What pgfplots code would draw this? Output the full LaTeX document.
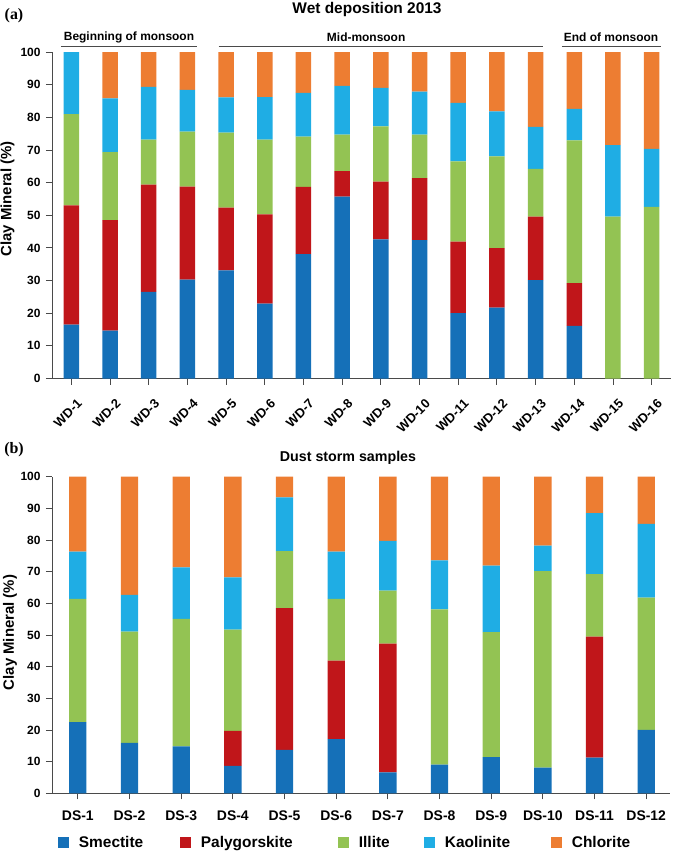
\documentclass[border=0pt]{standalone}
\usepackage{pgfplots}
\pgfplotsset{compat=1.18}
\usepackage{pgfplotstable}
\usepackage{fontspec}
\setmainfont{Liberation Sans}
\newfontfamily\serifb{Liberation Serif}

\definecolor{smec}{HTML}{1570B8}
\definecolor{paly}{HTML}{C0161A}
\definecolor{illi}{HTML}{93C353}
\definecolor{kaol}{HTML}{1FADE4}
\definecolor{chlo}{HTML}{ED7D32}
\definecolor{axgray}{HTML}{4A4A4A}

\pgfplotstableread{
x S P I K C
1 16.5 36.5 28.0 19.0 0
2 14.7 33.8 20.8 16.5 14.2
3 26.5 32.9 13.8 16.1 10.7
4 30.3 28.5 16.8 12.8 11.6
5 33.1 19.2 23.0 10.8 13.9
6 22.9 27.4 22.9 13.0 13.8
7 38.1 20.6 15.4 13.4 12.5
8 55.7 7.8 11.2 14.9 10.4
9 42.6 17.7 16.9 11.8 11.0
10 42.4 19.0 13.3 13.2 12.1
11 20.0 21.9 24.6 17.9 15.6
12 21.7 18.2 28.1 13.8 18.2
13 30.1 19.5 14.6 12.9 22.9
14 16.1 13.1 43.7 9.7 17.4
15 0 0 49.6 21.9 28.5
16 0 0 52.6 17.7 29.7
}\wetdata

\pgfplotstableread{
x S P I K C
1 22.5 0 38.9 14.9 23.7
2 15.9 0 35.2 11.6 37.3
3 14.8 0 40.3 16.3 28.6
4 8.7 11.0 32.0 16.5 31.8
5 13.7 44.8 18.0 17.0 6.5
6 17.1 24.8 19.5 14.9 23.7
7 6.6 40.7 16.7 15.7 20.3
8 9.1 0 49.0 15.5 26.4
9 11.4 0 39.5 21.0 28.1
10 8.1 0 62.1 8.0 21.8
11 11.3 38.2 19.7 19.3 11.5
12 20.0 0 41.8 23.3 14.9
}\dustdata

\pgfplotsset{
  clay/.style={
    scale only axis, ybar stacked, ymin=0, ymax=100, xmin=0.5,
    axis x line=bottom, axis y line=left,
    axis line style={-, draw=axgray, line width=0.9pt},
    tick align=outside, major tick length=6bp,
    tick style={draw=axgray, line width=0.9pt},
    ytick={0,10,...,100}, xtick=data,
    /pgf/number format/assume math mode=true,
    yticklabel style={font=\bfseries\fontsize{12}{14}\selectfont, xshift=-2bp},
    ylabel={Clay Mineral (\%)},
    ylabel style={font=\bfseries\fontsize{15}{18}\selectfont, anchor=center},
    clip=false,
    legend image code/.code={\fill[#1] (0bp,-5.35bp) rectangle (10.7bp,5.35bp);},
  },
}

\begin{document}
\begin{tikzpicture}
\path[use as bounding box] (0bp,0bp) rectangle (685bp,-854bp);

\node[font=\bfseries\fontsize{15.5}{18}\selectfont] at (367bp,-10bp) {Wet deposition 2013};
\node[font=\serifb\bfseries\fontsize{16}{18}\selectfont] at (14bp,-16bp) {(a)};
\node[font=\bfseries\fontsize{14.3}{17}\selectfont] at (348bp,-458bp) {Dust storm samples};
\node[font=\serifb\bfseries\fontsize{16}{18}\selectfont] at (14bp,-450bp) {(b)};

\begin{axis}[clay,
  at={(52bp,-378.5bp)}, anchor=south west,
  width=619bp, height=326.5bp, xmax=16.5,
  bar width=15.5bp,
  xticklabels={WD-1,WD-2,WD-3,WD-4,WD-5,WD-6,WD-7,WD-8,WD-9,WD-10,WD-11,WD-12,WD-13,WD-14,WD-15,WD-16},
  xticklabel style={xshift=5bp, yshift=-9bp, rotate=45, anchor=north east, font=\bfseries\fontsize{13}{15}\selectfont},
  ylabel style={at={(axis description cs:-0.072,0.55)}},
]
\addplot[fill=smec, draw=none] table[x=x, y=S] {\wetdata};
\addplot[fill=paly, draw=none] table[x=x, y=P] {\wetdata};
\addplot[fill=illi, draw=none] table[x=x, y=I] {\wetdata};
\addplot[fill=kaol, draw=none] table[x=x, y=K] {\wetdata};
\addplot[fill=chlo, draw=none] table[x=x, y=C] {\wetdata};
\draw[axgray, line width=1pt] (axis cs:0.73,101.6) -- (axis cs:4.24,101.6);
\draw[axgray, line width=1pt] (axis cs:4.81,101.6) -- (axis cs:13.19,101.6);
\draw[axgray, line width=1pt] (axis cs:13.68,101.6) -- (axis cs:16.24,101.6);
\node[font=\bfseries\fontsize{12}{14}\selectfont] at (axis cs:2.49,104.6) {Beginning of monsoon};
\node[font=\bfseries\fontsize{12}{14}\selectfont] at (axis cs:8.62,104.6) {Mid-monsoon};
\node[font=\bfseries\fontsize{12}{14}\selectfont] at (axis cs:14.95,104.6) {End of monsoon};
\end{axis}

\begin{axis}[clay,
  at={(52bp,-793.3bp)}, anchor=south west,
  width=618bp, height=316.6bp, xmax=12.46,
  bar width=17.3bp,
  xticklabels={DS-1,DS-2,DS-3,DS-4,DS-5,DS-6,DS-7,DS-8,DS-9,DS-10,DS-11,DS-12},
  xticklabel style={font=\bfseries\fontsize{14}{16}\selectfont, yshift=-8bp},
  ylabel style={at={(axis description cs:-0.068,0.508)}},
  legend columns=5,
  legend style={at={(axis description cs:0,0)}, anchor=west, xshift=6bp, yshift=-49bp,
    draw=none, fill=none, inner sep=0pt, nodes={inner sep=0pt},
    font=\bfseries\fontsize{15.5}{18}\selectfont,
    /tikz/every odd column/.append style={column sep=10bp},
    /tikz/every even column/.append style={column sep=0bp}},
]
\addplot[fill=smec, draw=none] table[x=x, y=S] {\dustdata};
\addplot[fill=paly, draw=none] table[x=x, y=P] {\dustdata};
\addplot[fill=illi, draw=none] table[x=x, y=I] {\dustdata};
\addplot[fill=kaol, draw=none] table[x=x, y=K] {\dustdata};
\addplot[fill=chlo, draw=none] table[x=x, y=C] {\dustdata};
\legend{\makebox[101.3bp][l]{Smectite},\makebox[137.3bp][l]{Palygorskite},\makebox[65.3bp][l]{Illite},\makebox[106.3bp][l]{Kaolinite},Chlorite}
\end{axis}
\end{tikzpicture}
\end{document}
